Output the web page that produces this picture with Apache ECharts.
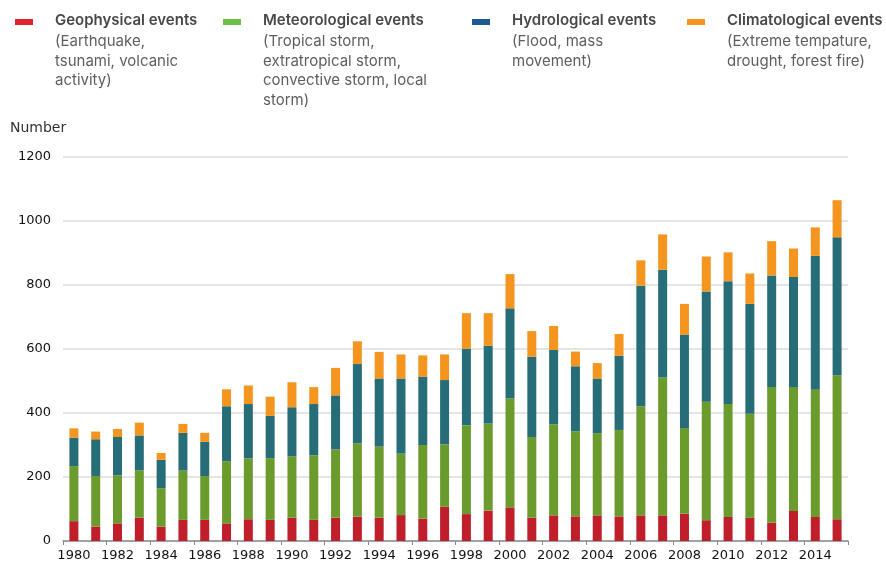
<!DOCTYPE html>
<html>
<head>
<meta charset="utf-8" />
<title>Natural loss events</title>
<style>
  html, body { margin: 0; padding: 0; background: #fff; }
  #main { width: 886px; height: 566px; }
</style>
</head>
<body>
<div id="main"></div>
<script src="https://cdn.jsdelivr.net/npm/echarts@6/dist/echarts.min.js"></script>
<script>
// years 1980..2015
var years = [];
for (var y = 1980; y <= 2015; y++) years.push(String(y));

var geophysical = [62, 45, 55, 73, 45, 66, 66, 55, 68, 66, 73, 66, 73, 76, 73, 81, 70, 107,
  84, 95, 105, 73, 80, 77, 80, 77, 80, 80, 85, 65, 75, 73, 57, 94, 75, 68];
var meteorological = [172, 158, 150, 148, 120, 154, 137, 194, 190, 193, 191, 202, 213, 229, 222, 192, 230, 195,
  278, 272, 340, 252, 285, 266, 257, 270, 341, 431, 268, 370, 353, 325, 424, 387, 398, 450];
var hydrological = [89, 115, 120, 109, 89, 118, 107, 172, 170, 132, 154, 160, 169, 248, 213, 235, 214, 201,
  239, 243, 282, 251, 232, 203, 171, 232, 377, 337, 292, 345, 384, 343, 349, 344, 418, 431];
var climatological = [29, 24, 25, 40, 21, 28, 28, 53, 58, 60, 78, 53, 86, 71, 83, 75, 66, 80,
  111, 102, 107, 80, 75, 46, 48, 68, 79, 110, 96, 109, 90, 95, 107, 89, 89, 116];

var seriesNames = ['Geophysical events', 'Meteorological events', 'Hydrological events', 'Climatological events'];
var seriesNotes = [
  ['(Earthquake,', 'tsunami, volcanic', 'activity)'],
  ['(Tropical storm,', 'extratropical storm,', 'convective storm, local', 'storm)'],
  ['(Flood, mass', 'movement)'],
  ['(Extreme tempature,', 'drought, forest fire)']
];
var barColors = ['#bf1e2a', '#6a9b2c', '#266d78', '#f3951f'];
var keyColors = ['#e2232e', '#6cbf47', '#1d5a92', '#f7941d'];
var keyX = [15, 223, 472, 687];

var legendFont = 'Inter, "Liberation Sans", sans-serif';
var axisFont = '"DejaVu Sans", sans-serif';

// legend drawn as graphics so the notes can sit under each title
var graphics = [];
for (var i = 0; i < 4; i++) {
  graphics.push({
    type: 'rect', left: keyX[i], top: 19,
    shape: { width: 18, height: 6 },
    style: { fill: keyColors[i] }
  });
  graphics.push({
    type: 'text', left: keyX[i] + 40, top: 13,
    style: { text: seriesNames[i], font: '600 15px ' + legendFont, fill: '#484848' }
  });
  graphics.push({
    type: 'text', left: keyX[i] + 40, top: 32,
    style: { text: seriesNotes[i].join('\n'), font: '15px ' + legendFont, fill: '#5e5e5e', lineHeight: 19.5 }
  });
}
graphics.push({
  type: 'text', left: 10, top: 121,
  style: { text: 'Number', font: '14px ' + axisFont, fill: '#333' }
});

var allData = [geophysical, meteorological, hydrological, climatological];
var series = allData.map(function (d, i) {
  return {
    name: seriesNames[i],
    type: 'bar',
    stack: 'total',
    barWidth: 9,
    data: d,
    itemStyle: { color: barColors[i] }
  };
});

var chart = echarts.init(document.getElementById('main'), null, { renderer: 'canvas' });
chart.setOption({
  backgroundColor: '#fff',
  animation: false,
  textStyle: { fontFamily: axisFont },
  grid: { left: 63, right: 38, top: 157, bottom: 25, containLabel: false },
  graphic: graphics,
  xAxis: {
    type: 'category',
    data: years,
    boundaryGap: true,
    axisLine: { lineStyle: { color: '#8a8a8a', width: 1.5 } },
    axisTick: { show: true, length: 4, lineStyle: { color: '#8a8a8a' } },
    axisLabel: { interval: 1, color: '#111', fontSize: 13, fontFamily: axisFont, margin: 8 }
  },
  yAxis: {
    type: 'value',
    min: 0, max: 1200, interval: 200,
    axisLine: { show: false },
    axisTick: { show: false },
    axisLabel: {
      color: '#111', fontSize: 13, fontFamily: axisFont, margin: 12,
      formatter: function (v) { return String(v); }
    },
    splitLine: { lineStyle: { color: '#dcdcdc', width: 1.5 } }
  },
  series: series
});
</script>
</body>
</html>
